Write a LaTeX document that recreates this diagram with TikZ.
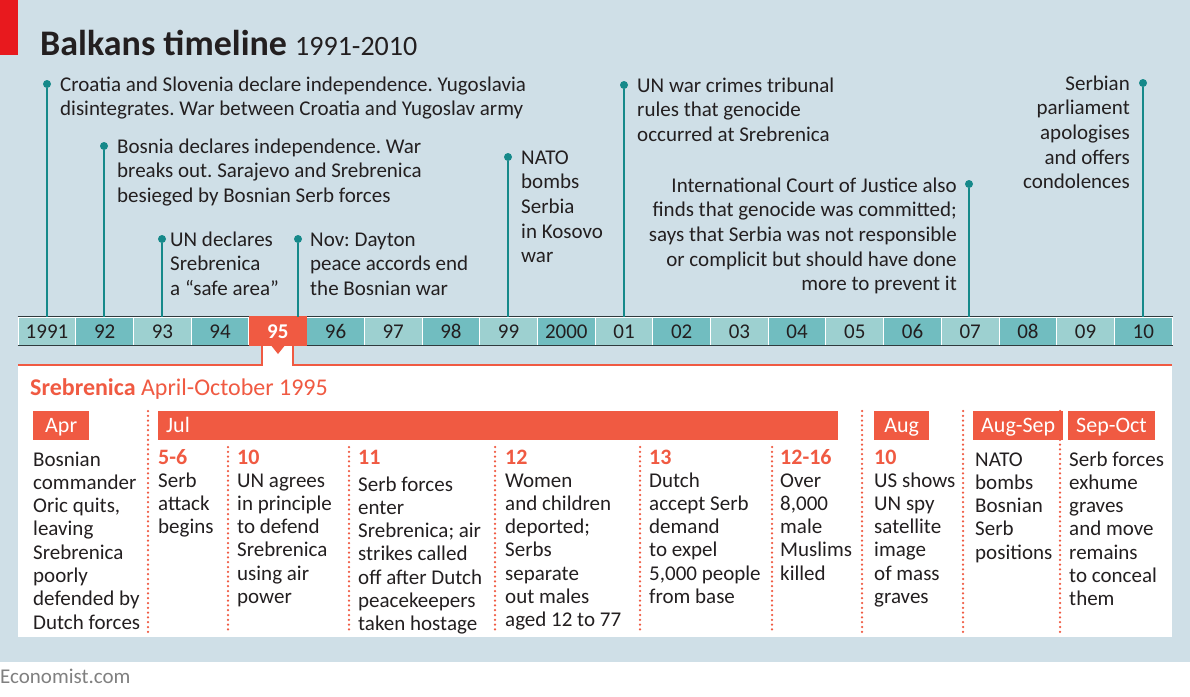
\documentclass[tikz,border=0pt]{standalone}
\usepackage{fontspec}
\setmainfont{Carlito}
\definecolor{bgblue}{HTML}{CFDFE7}
\definecolor{stemteal}{HTML}{16898A}
\definecolor{yrlight}{HTML}{9DD0D0}
\definecolor{yrdark}{HTML}{71BDC0}
\definecolor{ecored}{HTML}{F05A42}
\definecolor{titlered}{HTML}{E8191E}
\definecolor{bardark}{HTML}{2F3B3E}
\definecolor{inkgrey}{HTML}{231F20}
\frenchspacing
\begin{document}
\begin{tikzpicture}
[x=1pt,y=-1pt,
  evdot/.style={circle,fill=stemteal,inner sep=0pt,minimum size=8pt},
  stemline/.style={stemteal,line width=2pt},
  evtext/.style={inner sep=0pt,font=\fontsize{21}{24.7}\selectfont,text=inkgrey},
  yearcell/.style={minimum width=57.7pt,minimum height=28pt,inner sep=0pt,
    text height=14pt,text depth=0pt,
    draw=white,line width=1pt,font=\fontsize{21}{24}\selectfont,text=inkgrey},
  monthbox/.style={fill=ecored,text=white,inner xsep=8pt,inner ysep=0pt,
    minimum height=29pt,text height=16pt,text depth=2pt,
    font=\fontsize{22}{24}\selectfont,anchor=north west},
  daytext/.style={text=ecored,font=\bfseries\fontsize{22}{24}\selectfont,
    inner sep=0pt,anchor=base west},
  coltext/.style={inner sep=0pt,align=left,anchor=base west,
    font=\fontsize{21}{23.3}\selectfont,text=inkgrey},
  dotsep/.style={ecored,line width=2.5pt,line cap=round,dash pattern=on 0pt off 4.8pt}]
%% background and title
\fill[bgblue] (0,0) rectangle (1190,662);
\useasboundingbox (0,0) rectangle (1190,696);
\fill[titlered] (0,0) rectangle (18,55);
\node[anchor=base west,inner sep=0pt,text=inkgrey] (title) at (40,55)
  {\fontsize{36}{40}\selectfont\bfseries Balkans timeline
   \fontsize{28}{30}\selectfont\mdseries 1991-2010};
%% year bar
\foreach \lbl [count=\i from 0] in {1991,92,93,94,95,96,97,98,99,2000,
  01,02,03,04,05,06,07,08,09,10}
{
  \ifodd\i \def\cellcol{yrdark}\else\def\cellcol{yrlight}\fi
  \node (y\i) at (47+57.7*\i,331) [yearcell,fill=\cellcol] {\lbl};
}
\draw[bardark,line width=1.8pt] (y0.north west) -- (y19.north east);
\draw[bardark,line width=1.8pt] (y0.south west) -- (y19.south east);
%% panel with tab under 95
\fill[white] (18,365) rectangle (1172,637);
\fill[white] (262,345) rectangle (293,366);
\draw[ecored,line width=1.5pt] (18,365) -- (262,365) -- (262,345);
\draw[ecored,line width=1.5pt] (293,345) -- (293,365) -- (1172,365);
\node (hl) at (y4) [yearcell,fill=ecored,draw=none,text=white,
  minimum height=30pt,font=\bfseries\fontsize{21}{24}\selectfont] {95};
\fill[ecored] (270,344) -- (286,344) -- (278,354) -- cycle;
%% events above the bar (base = last line)
\foreach \nodename/\x/\y in {a/47/84, b/104/146, c/162/239, d/298/239,
  e/508/157, f/624/85, g/969/184, h/1143/83}
{
  \node (dot\nodename) at (\x,\y) [evdot] {};
  \coordinate (foot\nodename) at (\x,317);
  \draw[stemline] (dot\nodename) -- (foot\nodename);
}
\node (ev91) at (60,115.7) [evtext,align=left,anchor=base west]
  {Croatia and Slovenia declare independence. Yugoslavia\\
   disintegrates. War between Croatia and Yugoslav army};
\node (ev92) at (117,202.4) [evtext,align=left,anchor=base west]
  {Bosnia declares independence. War\\
   breaks out. Sarajevo and Srebrenica\\
   besieged by Bosnian Serb forces};
\node (ev93) at (170,295.4) [evtext,align=left,anchor=base west]
  {UN declares\\Srebrenica\\a “safe area”};
\node (ev95) at (310,295.4) [evtext,align=left,anchor=base west]
  {Nov: Dayton\\peace accords end\\the Bosnian war};
\node (ev99) at (521,262.8) [evtext,align=left,anchor=base west]
  {NATO\\bombs\\Serbia\\in Kosovo\\war};
\node (ev01) at (637,141.4) [evtext,align=left,anchor=base west]
  {UN war crimes tribunal\\rules that genocide\\occurred at Srebrenica};
\node (ev07) at (957,290.8) [evtext,align=right,anchor=base east]
  {International Court of Justice also\\
   finds that genocide was committed;\\
   says that Serbia was not responsible\\
   or complicit but should have done\\
   more to prevent it};
\node (ev10) at (1130,188.8) [evtext,align=right,anchor=base east]
  {Serbian\\parliament\\apologises\\and offers\\condolences};
%% Srebrenica panel
\node (srtitle) at (30,395) [anchor=base west,inner sep=0pt,text=ecored,
  font=\fontsize{24}{26}\selectfont]
  {\bfseries Srebrenica \mdseries April-October 1995};
\foreach \nodename/\x/\w/\lbl in {apr/33/56/Apr, aug/874/55/Aug,
  augsep/973/79/Aug-Sep, sepoct/1068/79/Sep-Oct}
{
  \node (m\nodename) at (\x,411) [monthbox,minimum width=\w pt] {\lbl};
}
\node (mjul) at (158,411) [monthbox,text width=664pt,align=left] {Jul};
\foreach \x/\ytop in {148/411, 228/447, 349/447, 495/447, 640/447,
  772/447, 862/411, 963/411, 1060/411}
{
  \draw[dotsep] (\x,\ytop) -- (\x,633);
}
\foreach \nodename/\x/\lbl in {d56/158/5-6, d10/237/10, d11/358/11,
  d12/505/12, d13/649/13, d1216/780/12-16, dau10/874/10}
{
  \node (\nodename) at (\x,464) [daytext] {\lbl};
}
\node (capr) at (33,629.1) [coltext]
  {Bosnian\\commander\\Oric quits,\\leaving\\Srebrenica\\poorly\\defended by\\Dutch forces};
\node (c56) at (158,533.6) [coltext] {Serb\\attack\\begins};
\node (c10) at (237,603.5) [coltext]
  {UN agrees\\in principle\\to defend\\Srebrenica\\using air\\power};
\node (c11) at (358,630.8) [coltext]
  {Serb forces\\enter\\Srebrenica; air\\strikes called\\off after Dutch\\peacekeepers\\taken hostage};
\node (c12) at (505,626.8) [coltext]
  {Women\\and children\\deported;\\Serbs\\separate\\out males\\aged 12 to 77};
\node (c13) at (649,603.5) [coltext]
  {Dutch\\accept Serb\\demand\\to expel\\5,000 people\\from base};
\node (c1216) at (780,580.2) [coltext] {Over\\8,000\\male\\Muslims\\killed};
\node (cau10) at (874,603.5) [coltext]
  {US shows\\UN spy\\satellite\\image\\of mass\\graves};
\node (caugsep) at (975,559.2) [coltext] {NATO\\bombs\\Bosnian\\Serb\\positions};
\node (csepoct) at (1069,605.8) [coltext]
  {Serb forces\\exhume\\graves\\and move\\remains\\to conceal\\them};
%% source
\node (credit) at (0,683) [anchor=base west,inner sep=0pt,text=black!50,
  font=\fontsize{21}{24}\selectfont] {Economist.com};
\end{tikzpicture}
\end{document}
